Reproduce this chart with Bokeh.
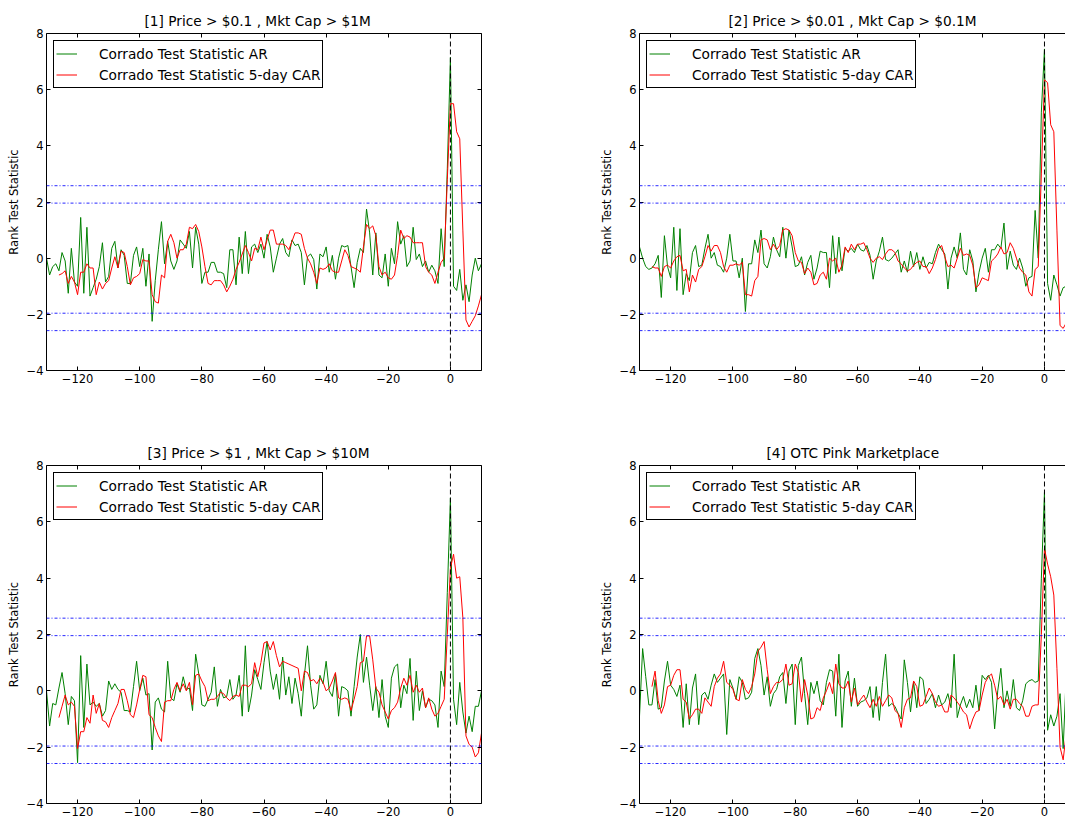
from bokeh.plotting import figure
from bokeh.models import Span, FixedTicker, LinearAxis, Range1d
from bokeh.layouts import column, row
from bokeh.embed import file_html
from bokeh.resources import INLINE

# ---------------- data ----------------
titles = ["[1] Price > $0.1 , Mkt Cap > $1M",
          "[2] Price > $0.01 , Mkt Cap > $0.1M",
          "[3] Price > $1 , Mkt Cap > $10M",
          "[4] OTC Pink Marketplace"]

ar_start = -130
car_start = -126

ar1 = [0.0, -0.6, -0.3, -0.2, -0.45, 0.2, -0.1, -1.25, 0.35, -0.85,
       -1.0, 1.45, -1.25, 1.1, -1.35, -1.05, -0.75, -0.3, 0.55, -0.85,
       -0.65, 0.35, 0.6, -0.35, 0.3, 0.1, -0.9, -0.9, 0.1, 0.4,
       -0.3, 0.35, -1.0, 0.15, -2.25, -0.8, 0.3, 1.3, -0.2, 0.6,
       -0.1, -0.4, -0.1, 0.65, 0.5, 0.35, 0.95, -0.35, 1.1, 0.5,
       -0.9, -0.5, -0.5, -0.15, -0.15, -0.5, -0.5, -0.55, -1.05, 0.3,
       0.3, -0.95, 0.75, -0.55, 0.95, -0.55, 0.4, 0.5, 0.2, 0.5,
       0.0, 0.85, 0.4, -0.5, 0.0, 0.5, 0.7, 0.2, 0.05, 0.65,
       0.45, 0.5, 0.2, -0.95, 0.05, 0.15, -0.05, -1.1, 0.15, 0.05,
       0.4, -0.5, 0.1, -0.75, 0.0, 0.45, 0.4, 0.45, -0.3, -1.05,
       -0.15, 0.35, 0.2, 1.75, 0.9, -0.6, 0.9, -0.6, -0.7, 0.15,
       -1.0, 0.35, -0.2, 1.3, 0.5, 0.8, -0.3, -0.1, 1.1, -0.05,
       0.15, -0.3, -0.1, -0.5, -0.25, -0.45, -0.9, 1.05, -0.3, 3.2,
       7.15, -1.0, -1.15, -0.4, -1.5, -0.95, -1.55, -0.6, 0.0, -0.45,
       -0.2]
car1 = [-0.6, -0.55, -0.45, -0.9, -0.65, -0.85, -1.3, -0.5, -0.5, -0.2,
        -0.35, -0.35, -1.3, -0.85, -1.1, -0.9, -0.8, -0.35, 0.05, -0.35,
        0.25, 0.2, -0.3, -0.95, -0.7, -0.65, -0.55, -0.05, -0.1, -0.1,
        -1.3, -1.55, -1.6, -0.6, -0.7, 0.6, 0.85, 0.55, 0.0, 0.3,
        0.3, 0.5, 1.1, 1.05, 1.2, 0.95, 0.4, -0.3, -0.9, -0.95,
        -0.8, -0.8, -0.8, -0.95, -1.2, -1.0, -0.75, -0.4, -0.15, 0.15,
        0.45, 0.2, -0.1, 0.35, 0.3, 0.75, 0.3, 0.65, 1.0, 1.0,
        0.5, 0.5, 0.5, 0.45, 0.3, 0.6, 0.9, 0.9, 0.85, 0.35,
        0.0, -0.2, -0.5, -0.9, -0.35, -0.4, -0.35, -0.2, -0.45, -0.5,
        -0.5, -0.1, 0.3, 0.1, -0.3, -0.35, -0.4, -0.5, 0.4, 1.2,
        1.05, 1.15, 0.8, -0.3, -0.6, -0.5, -0.7, -0.75, -0.6, 0.1,
        1.0, 0.7, 0.8, 0.75, 0.55, 0.55, 0.55, 0.55, -0.3, -0.5,
        -0.6, -0.9, -0.5, -0.15, 0.0, 2.8, 5.5, 5.5, 4.5, 4.25,
        1.0, -2.2, -2.45, -2.25, -2.05, -1.7, -1.3]

ar2 = [0.4, 0.0, -0.3, -0.4, -0.35, -0.2, 0.1, -1.4, 0.8, -0.3,
       -0.7, 1.1, -1.15, 1.05, -1.3, -0.55, -0.8, 0.2, 0.45, -0.3,
       -0.25, 0.35, 0.85, 0.0, 0.2, -0.25, -0.3, -0.5, 0.0, 0.85,
       -0.1, -0.1, -0.7, 0.0, -1.9, -0.2, -0.2, 0.65, 0.2, 1.0,
       -0.2, -0.35, 0.05, 0.75, 0.3, 0.05, 1.1, 0.0, 1.0, 0.4,
       -0.3, -0.25, 0.05, -0.6, -0.15, 0.1, -0.75, -0.35, 0.25, 0.2,
       0.2, -1.05, 0.8, -0.55, 0.75, -0.45, 0.35, 0.25, 0.35, 0.2,
       0.5, 0.3, 0.25, 0.45, 0.1, -0.75, -0.1, 0.25, 0.75, -0.05,
       -0.1, 0.0, 0.15, 0.3, -0.5, -0.1, -0.5, 0.25, -0.3, 0.2,
       -0.4, 0.05, -0.35, -0.15, -0.2, 0.2, 0.5, 0.3, 0.15, -1.1,
       0.0, 0.4, 0.0, 0.9, -0.4, -0.6, 0.3, -0.1, -1.2, -0.5,
       0.0, 0.35, -0.5, 0.3, 0.3, 0.5, 0.35, 1.25, -0.4, 0.25,
       -0.25, -0.4, 0.0, -0.35, -1.0, -0.7, -0.65, 1.7, 0.0, 5.2,
       7.45, -0.9, -1.5, -0.6, -0.95, -1.35, -1.05, -1.0]
car2 = [-0.3, -0.35, -0.35, -0.65, -0.3, -0.25, -0.35, -0.1, 0.05, 0.1,
        -0.45, -0.4, -1.2, -0.6, -0.85, -0.4, -0.3, 0.05, 0.45, 0.25,
        0.45, 0.45, 0.2, -0.3, -0.5, -0.25, -0.25, -0.2, -0.25, -0.15,
        -1.3, -1.3, -1.35, -0.8, -0.65, 0.65, 0.7, 0.65, 0.3, 0.5,
        0.3, 0.45, 1.0, 1.05, 1.0, 0.8, 0.2, -0.1, -0.15, -0.55,
        -0.35, -0.5, -0.95, -0.9, -0.6, -0.5, -0.75, 0.0, -0.1, 0.0,
        -0.5, -0.25, 0.4, 0.2, 0.5, 0.3, 0.5, 0.5, 0.55, 0.3,
        0.0, -0.15, 0.0, 0.05, -0.05, 0.15, 0.3, 0.3, 0.2, -0.1,
        -0.2, -0.35, -0.45, -0.4, -0.25, -0.15, -0.1, -0.3, -0.3, -0.55,
        -0.35, -0.05, 0.35, 0.45, 0.05, -0.3, -0.25, -0.35, 0.0, 0.35,
        0.1, 0.15, 0.1, -0.25, -1.05, -0.95, -0.7, -0.75, -0.8, -0.1,
        0.0, 0.15, 0.4, 0.15, 0.2, 0.55, 0.35, 0.0, -0.35, -0.5,
        -0.6, -1.2, -1.35, -0.4, -0.3, 3.0, 6.35, 6.25, 4.75, 4.5,
        1.0, -2.4, -2.5, -2.3]

ar3 = [0.0, -1.25, -0.45, -0.5, 0.1, 0.65, -0.1, -1.2, -0.2, -0.35,
       -2.55, 1.25, -1.3, 0.95, -0.5, -0.4, -0.55, -0.45, -0.9, -0.7,
       0.35, 0.05, 0.25, 0.05, -0.05, -0.7, -0.7, -0.75, 0.15, 1.05,
       0.0, 0.45, -0.15, -0.1, -2.1, -0.4, -0.25, -0.65, -0.75, 1.05,
       -0.25, -0.35, 0.25, -0.05, 0.5, 0.05, 0.1, -0.7, 1.3, 0.6,
       -0.5, -0.55, -0.3, -0.05, 0.85, -0.55, 0.05, -0.25, -0.2, 0.4,
       -0.3, -0.15, 0.55, -0.9, 1.6, -0.75, -0.15, 0.75, 0.4, 0.05,
       1.0, 1.75, 0.7, 0.05, 0.6, -0.3, 1.2, -0.15, 0.5, -0.45,
       0.45, -0.1, -0.9, 0.55, 1.6, 0.2, -0.65, -0.5, 0.55, 0.25,
       1.05, 0.0, -0.2, 0.6, -0.9, 0.15, 0.1, 0.0, -0.9, 0.15,
       1.2, 2.0, 0.3, 1.2, 0.2, -0.7, 0.15, -0.95, 0.4, -0.9,
       -1.3, 0.45, 0.85, 0.95, -0.6, 0.2, -0.1, 1.15, -1.05, 0.7,
       -0.7, 0.0, -0.6, -0.3, -0.35, -0.5, -1.3, 0.7, 0.15, 3.5,
       6.85, -0.3, -1.2, 0.3, -0.75, -1.5, -0.9, -1.45, -0.55, -0.55,
       0.0]
car3 = [-0.95, -0.55, -0.15, -0.5, -0.4, -0.55, -2.05, -1.45, -1.45, -0.95,
        -1.15, -0.15, -0.8, -0.45, -1.05, -1.1, -1.3, -0.95, -0.7, -0.45,
        0.05, 0.05, -0.35, -0.85, -0.95, -0.5, 0.05, 0.55, 0.5, -0.85,
        -0.95, -1.3, -1.6, -1.8, -0.4, -0.35, -0.35, 0.05, 0.3, 0.0,
        0.25, 0.0, 0.3, -0.5, 0.55, 0.6, 0.35, 0.15, -0.35, -0.3,
        -0.3, -0.2, -0.05, -0.1, -0.25, -0.35, -0.2, -0.15, -0.2, 0.2,
        0.2, 0.15, 0.25, 1.0, 0.5, 1.0, 1.7, 1.75, 1.45, 1.75,
        1.25, 0.85, 1.05, 1.0, 0.95, 0.9, 0.85, 0.8, 0.0, 0.7,
        0.65, 0.35, 0.4, 0.25, 0.45, 0.3, 0.0, 0.1, 0.35, 0.65,
        -0.25, -0.3, -0.25, -0.3, -0.7, -0.3, 0.15, 1.0, 1.05, 1.95,
        1.95, 1.1, 0.1, -0.05, -0.5, -0.75, -1.0, -0.7, -0.6, -0.4,
        0.1, 0.45, 0.2, 0.55, -0.05, 0.2, -0.05, 0.1, -0.6, -0.25,
        -0.65, -0.9, -0.8, -0.55, -0.3, 2.0, 4.35, 4.85, 4.0, 4.05,
        2.6, -1.6, -1.9, -2.0, -2.35, -2.2, -1.5]

ar4 = [-0.9, 1.5, 0.5, -0.5, -0.5, 0.4, -0.65, -0.6, 0.35, 1.05,
       0.2, 0.05, -0.2, 0.2, -1.3, 0.25, -1.2, 0.1, 0.6, -1.2,
       -0.15, -0.05, -0.3, 0.2, 0.6, 0.3, 0.45, 0.6, -1.55, 0.4,
       0.1, -0.3, 0.5, 0.3, -0.3, -0.25, -0.05, 1.15, 1.5, 0.9,
       -0.15, 0.5, -0.55, -0.1, 0.05, 0.5, 0.65, -0.45, 0.7, 0.95,
       -1.2, 0.9, 1.2, -0.1, -1.2, 0.3, -0.1, 0.35, -0.35, -0.5,
       0.3, 0.75, 0.7, -0.9, 1.3, -1.3, 0.35, 0.7, -0.55, 0.45,
       -0.55, -0.4, -0.35, -0.25, 0.15, -0.95, 0.15, -1.05, 0.3, 1.3,
       -0.55, -0.45, -0.55, -0.8, -1.0, 1.1, 0.3, -0.75, 0.3, -0.6,
       0.5, 0.4, -0.45, -0.3, -0.1, -0.6, -0.15, -0.5, -0.4, -0.1,
       -0.6, 1.3, -0.95, -0.5, -0.2, -0.6, -0.3, -0.6, 0.2, -0.7,
       0.55, 0.4, 0.55, 0.3, -1.35, 0.0, 0.8, -0.6, 0.0, -0.55,
       0.4, -0.6, -0.7, -0.35, 0.25, 0.35, 0.4, 0.3, 0.35, 4.0,
       7.05, -1.4, -0.85, -1.25, -0.9, -0.1, -2.05, 0.6]
car4 = [0.15, 0.7, -0.35, -0.8, -0.5, 0.15, 0.2, 0.55, 0.75, 0.75,
        -0.3, -0.4, -1.0, -0.85, -0.65, -0.65, -0.8, -0.25, -0.4, -0.55,
        0.15, 0.45, 0.6, 1.05, 0.3, 0.2, 0.05, -0.3, -0.35, 0.4,
        0.05, -0.1, 0.15, 0.6, 1.4, 1.55, 1.75, 0.75, -0.1, 0.15,
        0.3, 0.3, 0.4, 0.95, 0.2, 0.25, 0.95, 0.65, -0.4, 0.4,
        -0.15, -1.0, -0.95, -0.6, -0.7, -0.25, 0.0, 0.3, -0.1, 0.95,
        0.25, 0.1, 0.1, 0.35, -0.4, 0.1, -0.5, -0.3, -0.15, -0.4,
        -0.6, -0.3, -0.55, -0.2, -0.55, -0.35, -0.15, -0.25, -0.7, -0.8,
        -1.3, -0.6, -0.3, -0.25, 0.35, 0.15, -0.55, -0.5, -0.2, 0.1,
        -0.1, -0.4, -0.55, -0.5, -0.75, -0.75, -0.15, -0.25, -0.4, -0.55,
        -0.75, -0.85, -1.35, -1.0, -0.75, -0.7, -0.15, 0.3, 0.5, 0.6,
        0.2, -0.3, -0.2, -0.5, -0.3, -0.65, -0.3, -0.3, -0.45, -0.55,
        -0.9, -0.9, -0.55, -0.5, -0.5, 2.0, 5.05, 4.5, 4.05, 3.4,
        0.8, -2.0, -2.45, -1.5]

ar_series = [ar1, ar2, ar3, ar4]
car_series = [car1, car2, car3, car4]
x_max = [10, 6.75, 10, 6.75]

critical_values = [2.58, 1.96, -1.96, -2.58]
event_day = 0

x_ticks = [-120, -100, -80, -60, -40, -20, 0]
x_tick_labels = ["\u2212120", "\u2212100", "\u221280", "\u221260", "\u221240", "\u221220", "0"]
y_ticks = [-4, -2, 0, 2, 4, 6, 8]
y_tick_labels = ["\u22124", "\u22122", "0", "2", "4", "6", "8"]

FONT = "DejaVu Sans"
FS_TICK = "11.5px"
FS_BIG = "13.7px"


def style_axis(ax, ticks, labels, standoff=3):
    ax.ticker = FixedTicker(ticks=ticks)
    ax.major_label_overrides = dict(zip(ticks, labels))
    ax.major_tick_in = 4
    ax.major_tick_out = 0
    ax.minor_tick_line_color = None
    ax.major_tick_line_color = "black"
    ax.axis_line_color = "black"
    ax.major_label_text_font = FONT
    ax.major_label_text_color = "black"
    ax.major_label_text_font_size = FS_TICK
    ax.major_label_standoff = standoff


def frame_axis(ticks):
    # axis line + inner tick marks only (ticks given as minor ticks -> no labels)
    ax = LinearAxis(ticker=FixedTicker(ticks=[], minor_ticks=ticks))
    ax.axis_line_color = "black"
    ax.major_tick_line_color = None
    ax.minor_tick_in = 4
    ax.minor_tick_out = 0
    ax.minor_tick_line_color = "black"
    ax.major_label_standoff = 0
    return ax


def make_plot(i, width, height, mbl, mbr, mbt, mbb, right_border, title_offset):
    p = figure(width=width, height=height, output_backend="svg", toolbar_location=None,
               x_range=Range1d(-130, x_max[i]), y_range=Range1d(-4, 8),
               min_border_left=mbl, min_border_right=mbr,
               min_border_top=mbt, min_border_bottom=mbb,
               title=titles[i])
    p.outline_line_color = None
    p.grid.visible = False
    p.background_fill_color = "white"
    p.border_fill_color = "white"
    p.title.text_font = FONT
    p.title.text_font_size = FS_BIG
    p.title.text_font_style = "normal"
    p.title.align = "left"
    p.title.offset = title_offset
    p.title.text_color = "black"
    p.title.standoff = 10

    style_axis(p.xaxis[0], x_ticks, x_tick_labels, standoff=3)
    style_axis(p.yaxis[0], y_ticks, y_tick_labels, standoff=3)
    p.yaxis[0].axis_label = "Rank Test Statistic"
    p.yaxis[0].axis_label_text_font = FONT
    p.yaxis[0].axis_label_text_font_size = FS_TICK
    p.yaxis[0].axis_label_text_font_style = "normal"
    p.yaxis[0].axis_label_text_color = "black"
    p.yaxis[0].axis_label_standoff = 3

    p.add_layout(frame_axis(x_ticks), "above")
    if right_border:
        p.add_layout(frame_axis(y_ticks), "right")

    for c in critical_values:
        p.add_layout(Span(location=c, dimension="width", line_color="blue",
                          line_width=1, line_dash="3 2 1 2", line_alpha=0.85))

    ar = ar_series[i]
    car = car_series[i]
    xa = list(range(ar_start, ar_start + len(ar)))
    xc = list(range(car_start, car_start + len(car)))
    p.line(xa, ar, line_color="green", line_width=1, legend_label="Corrado Test Statistic AR")
    p.line(xc, car, line_color="red", line_width=1, legend_label="Corrado Test Statistic 5-day CAR")

    p.add_layout(Span(location=event_day, dimension="height", line_color="black",
                      line_width=1, line_dash="5 3"))

    lg = p.legend[0]
    lg.location = "top_left"
    lg.margin = 7
    lg.padding = 2
    lg.spacing = 0
    lg.glyph_width = 21
    lg.glyph_height = 21
    lg.label_height = 21
    lg.label_standoff = 22
    lg.label_text_font = FONT
    lg.label_text_font_size = FS_BIG
    lg.label_text_color = "black"
    lg.border_line_color = "black"
    lg.border_line_width = 1
    lg.border_line_alpha = 1
    lg.background_fill_alpha = 1
    return p


p1 = make_plot(0, 548, 430, 46, 67, 33, 60, True, 98)
p2 = make_plot(1, 517, 430, 91, 0, 33, 60, False, 89)
p3 = make_plot(2, 548, 392, 46, 67, 35, 19, True, 101)
p4 = make_plot(3, 517, 392, 91, 0, 35, 19, False, 127)

layout = column(row(p1, p2), row(p3, p4))

with open("out.html", "w") as f:
    f.write(file_html(layout, INLINE))
